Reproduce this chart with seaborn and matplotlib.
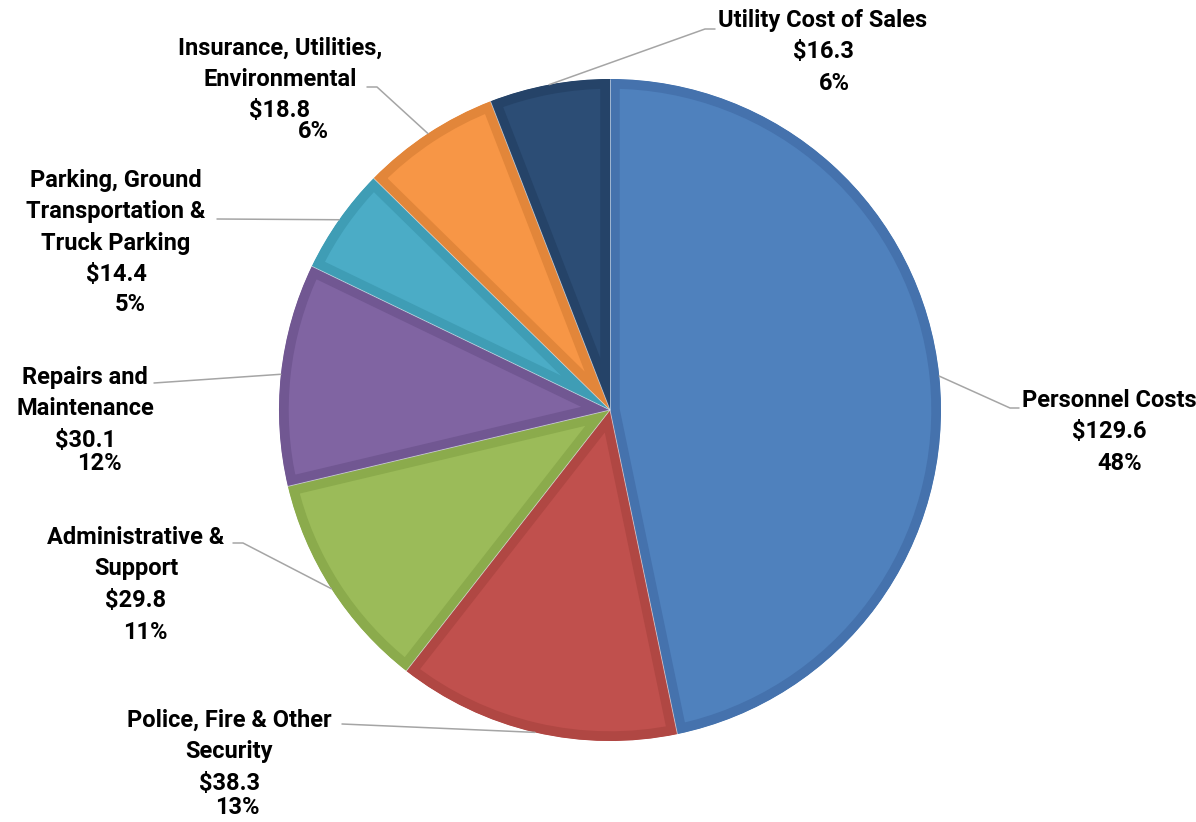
import numpy as np
import matplotlib
matplotlib.use("Agg")
import matplotlib.pyplot as plt
import matplotlib.patches as mpatches
import seaborn as sns

# Operating expense breakdown ($ millions), clockwise from 12 o'clock
categories = [
    "Personnel Costs",
    "Police, Fire & Other\nSecurity",
    "Administrative &\nSupport",
    "Repairs and\nMaintenance",
    "Parking, Ground\nTransportation &\nTruck Parking",
    "Insurance, Utilities,\nEnvironmental",
    "Utility Cost of Sales",
]
values = [129.6, 38.3, 29.8, 30.1, 14.4, 18.8, 16.3]
percent_labels = ["48%", "13%", "11%", "12%", "5%", "6%", "6%"]

face_colors = ["#4F81BD", "#C0504D", "#9BBB59", "#8064A2", "#4BACC6", "#F79646", "#2C4D75"]
rim_colors = ["#4572AD", "#B04743", "#8BAB4C", "#715792", "#3F9DB5", "#E2863A", "#254368"]

# label placement in pixel space: (x centre, y of first line), percent (x, y),
# and the bend points of each leader line (from label side toward the pie)
name_pos = [(1109, 400), (229, 720), (136, 537), (85, 377), (116, 180), (280, 48), (823, 20)]
pct_pos = [(1120, 463), (237, 807), (145, 632), (99, 463), (130, 304), (313, 131), (834, 84)]
leader_pts = [
    [(1019, 408), (1010, 408)],
    [(342, 724)],
    [(233, 543), (243, 543)],
    [(154, 383)],
    [(217, 219)],
    [(367, 87), (377, 87)],
    [(715, 29), (705, 29)],
]

W, H = 1196, 822
CX, CY, R = 610, 410, 331
LINE_H = 31.5

sns.set_theme(style="white")
plt.rcParams["font.family"] = ["Roboto", "DejaVu Sans"]

fig = plt.figure(figsize=(W / 100, H / 100), dpi=100)
ax = fig.add_axes([0, 0, 1, 1])

# y axis is inverted below, so counterclock=True with startangle=-90
# runs clockwise from the top on screen
wedges, _ = ax.pie(
    values,
    colors=face_colors,
    startangle=-90,
    counterclock=True,
    center=(CX, CY),
    radius=R,
    wedgeprops=dict(linewidth=0),
)
ax.set_xlim(0, W)
ax.set_ylim(H, 0)
ax.set_aspect("equal")
ax.axis("off")

# darker inset rim on each slice: a wide stroke clipped to the slice outline
for w, rc in zip(wedges, rim_colors):
    clip = mpatches.Wedge(w.center, w.r, w.theta1, w.theta2, transform=ax.transData)
    w.set_edgecolor(rc)
    w.set_linewidth(14)
    w.set_joinstyle("miter")
    w.set_clip_on(True)
    w.set_clip_path(clip)

# thin light seams between slices
total = float(sum(values))
bounds = np.cumsum([0.0] + values)[:-1] / total * 2 * np.pi
for th in bounds:
    ax.plot([CX, CX + R * np.sin(th)], [CY, CY - R * np.cos(th)],
            color="#DDE3EA", lw=0.6, alpha=0.7, solid_capstyle="butt", zorder=3)

# leader lines to the middle of each slice's outer arc
mids = (np.cumsum(values) - np.array(values) / 2) / total * 2 * np.pi
for mid, pts in zip(mids, leader_pts):
    ex, ey = CX + R * np.sin(mid), CY - R * np.cos(mid)
    xs = [p[0] for p in pts] + [ex]
    ys = [p[1] for p in pts] + [ey]
    ax.plot(xs, ys, color="#A5A5A5", lw=1.1, zorder=4)

font = dict(fontsize=17, fontweight="bold", color="black", ha="center", va="center")
for name, val, (nx, ny), pct, (px, py) in zip(categories, values, name_pos, percent_labels, pct_pos):
    lines = name.split("\n") + [f"${val:.1f}"]
    for i, line in enumerate(lines):
        ax.text(nx, ny + i * LINE_H, line, **font)
    ax.text(px, py, pct, **font)

fig.savefig("out.png", dpi=100)
